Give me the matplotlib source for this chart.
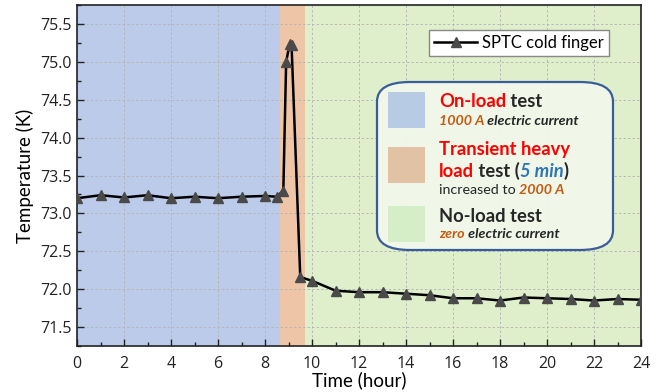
import numpy as np
import matplotlib.pyplot as plt
from matplotlib.patches import FancyBboxPatch, Rectangle

# data
time_h = [0, 1, 2, 3, 4, 5, 6, 7, 8, 8.5, 8.78, 8.9, 9.05, 9.13, 9.5,
          10, 11, 12, 13, 14, 15, 16, 17, 18, 19, 20, 21, 22, 23, 24]
temp_k = [73.20, 73.24, 73.21, 73.24, 73.20, 73.22, 73.20, 73.22, 73.23, 73.22, 73.30,
          75.00, 75.24, 75.22, 72.16,
          72.11, 71.98, 71.96, 71.96, 71.94, 71.92, 71.88, 71.88, 71.85, 71.89,
          71.88, 71.87, 71.85, 71.87, 71.86]
phase_edges = [0, 8.62, 9.7, 24]
phase_colors = ['#bccbe9', '#efc5a8', '#dfefcb']

W, H = 661, 392
fig = plt.figure(figsize=(W / 100, H / 100), dpi=100)
ax = fig.add_axes([77 / W, 1 - 346 / H, (641 - 77) / W, (346 - 5) / H])

for i in range(3):
    ax.axvspan(phase_edges[i], phase_edges[i + 1], color=phase_colors[i], lw=0, zorder=0)

ax.plot(time_h, temp_k, color='black', lw=1.8, marker='^', ms=6.5,
        mfc='#4a4a4a', mec='#4a4a4a', label='SPTC cold finger', zorder=3)

ax.set_xlim(0, 24)
ax.set_ylim(71.25, 75.75)
ax.set_xticks(np.arange(0, 25, 2))
ax.set_xticks(np.arange(1, 24, 2), minor=True)
ax.set_yticks(np.arange(71.5, 75.6, 0.5))
ax.set_yticks(np.arange(71.25, 75.76, 0.25), minor=True)
ax.set_yticklabels(['%.1f' % v for v in np.arange(71.5, 75.6, 0.5)])
ax.tick_params(which='both', direction='in', labelsize=11.5, width=1, colors='#222222')
ax.tick_params(which='major', length=5)
ax.tick_params(which='minor', length=3)
ax.tick_params(axis='x', pad=7)
ax.grid(True, which='major', ls=(0, (2.5, 2.5)), color='#b4b4b4', lw=0.65)
for s in ax.spines.values():
    s.set_linewidth(1.2)
    s.set_color('#222222')
ax.set_xlabel('Time (hour)', fontsize=13.5, labelpad=0, fontfamily='Lato')
ax.set_ylabel('Temperature (K)', fontsize=13.5, labelpad=5, fontfamily='Lato')
for lab in ax.get_xticklabels() + ax.get_yticklabels():
    lab.set_fontfamily('Open Sans')

leg = ax.legend(loc='upper right', bbox_to_anchor=(609 / W, 1 - 30 / H),
                bbox_transform=fig.transFigure, fancybox=False, framealpha=1,
                edgecolor='#888888', prop={'family': 'Lato', 'size': 12},
                handlelength=2.6, borderpad=0.3, handletextpad=0.3, borderaxespad=0)
leg.get_frame().set_linewidth(1)
leg.set_zorder(5)


def px(x, y):
    return (x / W, 1 - y / H)


# rounded info box, kept inside the axes so its texts stack on top
box = FancyBboxPatch(px(377, 250), (613 - 377) / W, (250 - 82) / H,
                     boxstyle='round,pad=0,rounding_size=0.05', transform=fig.transFigure,
                     facecolor='#f1f7ea', edgecolor='#2f5597', lw=1.6, alpha=0.95,
                     zorder=6, clip_on=False)
ax.add_patch(box)
for (ytop, col) in [(92, '#b8cbe4'), (147, '#e2c2a4'), (206, '#d5eec8')]:
    sq = Rectangle(px(388, ytop + 36), 37 / W, 36 / H, transform=fig.transFigure,
                   facecolor=col, edgecolor='none', zorder=7, clip_on=False)
    ax.add_patch(sq)

red, dark, orng, blue = '#ff0000', '#262626', '#c55a11', '#2e75b6'
big, small = 13.2, 10.3


def chain(x, y, parts):
    prev = None
    for txt, col, size, weight, style in parts:
        kw = dict(color=col, fontsize=size, fontweight=weight, fontstyle=style,
                  fontfamily='Lato', zorder=8, annotation_clip=False)
        if prev is None:
            prev = ax.annotate(txt, xy=px(x, y), xycoords='figure fraction',
                               ha='left', va='baseline', **kw)
        else:
            prev = ax.annotate(txt, xy=(1, 0), xycoords=prev,
                               ha='left', va='bottom', **kw)


chain(439, 107, [('On-load', red, big, 'bold', 'normal'), (' test', dark, big, 'bold', 'normal')])
chain(439, 125, [('1000 A', orng, small, 'bold', 'italic'),
                 (' electric current', dark, small, 'bold', 'italic')])
chain(439, 155, [('Transient heavy', red, big, 'bold', 'normal')])
chain(439, 177, [('load', red, big, 'bold', 'normal'), (' test (', dark, big, 'bold', 'normal'),
                 ('5 min', blue, big, 'bold', 'italic'), (')', dark, big, 'bold', 'normal')])
chain(439, 194, [('increased to ', dark, small, 'normal', 'normal'),
                 ('2000 A', orng, small, 'bold', 'italic')])
chain(439, 222, [('No-load test', dark, big, 'bold', 'normal')])
chain(439, 238, [('zero', orng, small, 'bold', 'italic'),
                 (' electric current', dark, small, 'bold', 'italic')])

plt.savefig('out.png', dpi=100)
